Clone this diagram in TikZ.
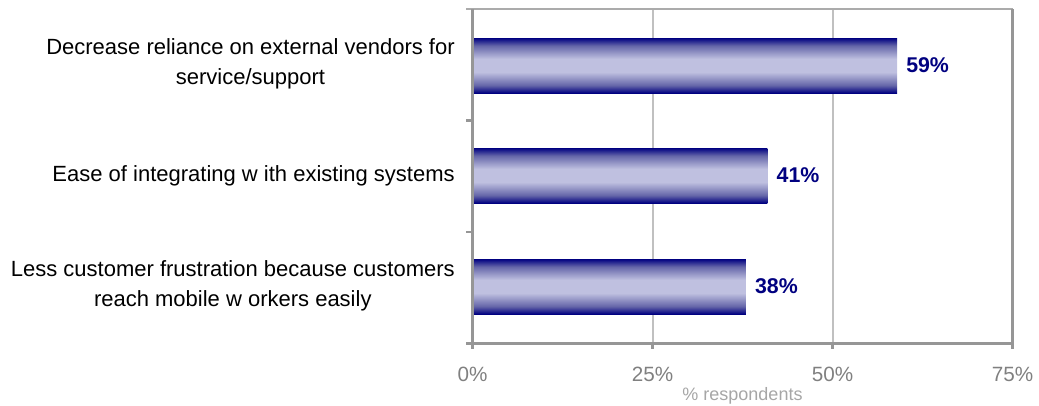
\documentclass[tikz,border=0pt]{standalone}
\usepackage{fontspec}
\setmainfont{Liberation Sans}
\usetikzlibrary{positioning}
\definecolor{barNavy}{HTML}{000080}
\definecolor{barMid}{HTML}{6566A9}
\definecolor{barLight}{HTML}{BFC0E0}
\definecolor{axisGray}{HTML}{969696}
\definecolor{frameGray}{HTML}{ABABAB}
\definecolor{gridGray}{HTML}{C0C0C0}
\definecolor{tickText}{HTML}{808080}
\definecolor{titleText}{HTML}{A6A6A6}
\pgfdeclareverticalshading{barshade}{100bp}{color(0bp)=(barNavy); color(25bp)=(barNavy);%
color(32bp)=(barMid); color(44bp)=(barLight); color(56bp)=(barLight);%
color(68bp)=(barMid); color(75bp)=(barNavy); color(100bp)=(barNavy)}
\tikzstyle{bar} = [rectangle, inner sep=0pt, minimum height=41.25pt, anchor=west,%
shading=barshade]
\tikzstyle{pct} = [font=\fontsize{16pt}{19pt}\selectfont\bfseries, text=barNavy,%
inner sep=0pt]
\tikzstyle{cat} = [font=\fontsize{16.5pt}{22.5pt}\selectfont, align=center,%
anchor=east, inner sep=0pt]
\tikzstyle{ticklabel} = [font=\fontsize{15.5pt}{18pt}\selectfont, text=tickText,%
anchor=base, inner sep=0pt]
\tikzstyle{axistitle} = [font=\fontsize{13.5pt}{16pt}\selectfont, text=titleText,%
anchor=base, inner sep=0pt]
\tikzstyle{axisline} = [draw=axisGray, line width=1.6pt]
\tikzstyle{frameline} = [draw=frameGray, line width=1.5pt]
\tikzstyle{gridline} = [draw=gridGray, line width=1.5pt]

\begin{document}
\begin{tikzpicture}[x=0.75pt, y=-0.75pt]
    \useasboundingbox (0,0) rectangle (1039,405);

    % grid and frame
    \draw [gridline] (652.5,9) -- (652.5,343.5);
    \draw [gridline] (832.5,9) -- (832.5,343.5);
    \draw [frameline] (466,9) -- (1012.5,9);
    \draw [axisline] (1012.5,9) -- (1012.5,349);

    % bars
    \node (bar1) [bar, minimum width=318.6pt] at (472,65.5) {};
    \node (bar2) [bar, minimum width=221.4pt] at (472,175.5) {};
    \node (bar3) [bar, minimum width=205.2pt] at (472,286.5) {};

    % axes
    \draw [axisline] (472.5,9) -- (472.5,349);
    \draw [axisline] (466,343.5) -- (1012.5,343.5);
    \draw [axisline] (466,120.5) -- (472.5,120.5);
    \draw [axisline] (466,232) -- (472.5,232);
    \draw [axisline] (652.5,343.5) -- (652.5,349);
    \draw [axisline] (832.5,343.5) -- (832.5,349);

    % categories
    \node (cat1) [cat] at (455,64) {Decrease reliance on external vendors for\\service/support};
    \node (cat2) [cat] at (455,176) {Ease of integrating w ith existing systems};
    \node (cat3) [cat] at (455,286) {Less customer frustration because customers\\%
      reach mobile w orkers easily};

    % values
    \node (val1) [pct, right=6.5pt of bar1] {59\%};
    \node (val2) [pct, right=6.5pt of bar2] {41\%};
    \node (val3) [pct, right=6.5pt of bar3] {38\%};

    % x axis labels
    \node (tick0) [ticklabel] at (472.5,381.5) {0\%};
    \node (tick25) [ticklabel] at (652.5,381.5) {25\%};
    \node (tick50) [ticklabel] at (832.5,381.5) {50\%};
    \node (tick75) [ticklabel] at (1012.5,381.5) {75\%};
    \node (xtitle) [axistitle] at (742.5,400) {\% respondents};
  \end{tikzpicture}
\end{document}
